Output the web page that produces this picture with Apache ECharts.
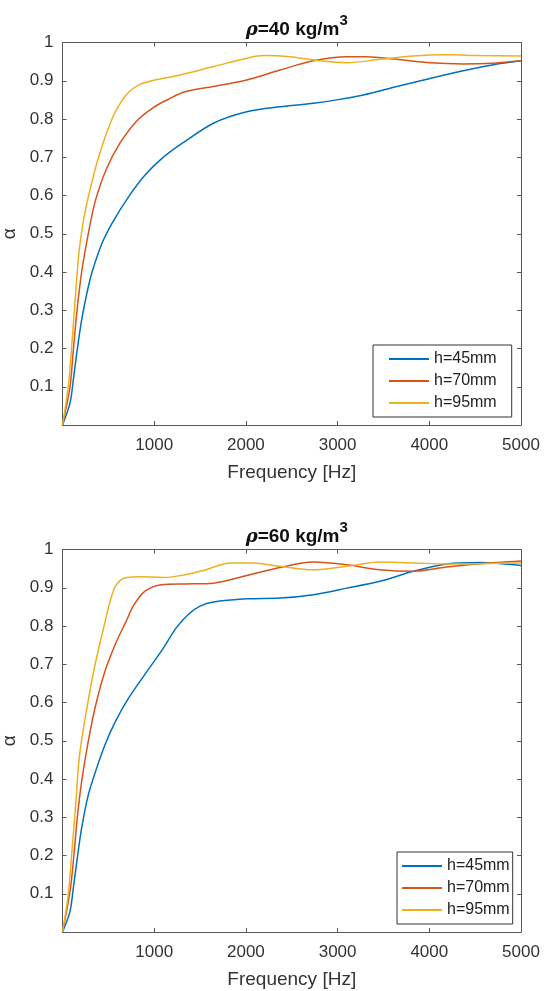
<!DOCTYPE html>
<html>
<head>
<meta charset="utf-8">
<script src="https://cdn.jsdelivr.net/npm/echarts@6/dist/echarts.min.js"></script>
<style>html,body{margin:0;padding:0;background:#fff}#c{width:544px;height:991px}</style>
</head>
<body>
<div id="c"></div>
<script>
// ---- data (frequency in Hz, absorption coefficient alpha) ----
const seriesNames = ['h=45mm', 'h=70mm', 'h=95mm'];
const xTicks = [1000, 2000, 3000, 4000, 5000];

// rho = 40 kg/m3
const f40_45 = [0, 82, 118, 155, 209, 282, 329, 431, 540, 722, 903, 1085, 1303, 1645, 2009, 2372, 2735, 2990, 3281, 3645, 4008, 4371, 4700, 5000];
const a40_45 = [0, 0.057, 0.118, 0.187, 0.275, 0.362, 0.405, 0.475, 0.527, 0.597, 0.654, 0.697, 0.736, 0.789, 0.819, 0.832, 0.841, 0.85, 0.863, 0.885, 0.906, 0.926, 0.942, 0.952];
const f40_70 = [0, 82, 118, 155, 209, 282, 356, 480, 630, 810, 990, 1158, 1336, 1645, 2009, 2372, 2735, 3099, 3317, 3645, 4008, 4371, 4700, 5000];
const a40_70 = [0, 0.1, 0.196, 0.292, 0.4, 0.501, 0.584, 0.67, 0.738, 0.795, 0.83, 0.852, 0.871, 0.885, 0.902, 0.928, 0.952, 0.963, 0.963, 0.956, 0.947, 0.944, 0.946, 0.952];
const f40_95 = [0, 63, 100, 140, 180, 225, 285, 393, 540, 640, 730, 840, 1009, 1281, 1645, 2009, 2190, 2481, 2808, 3099, 3462, 3826, 4190, 4553, 5000];
const a40_95 = [0, 0.1, 0.205, 0.335, 0.452, 0.53, 0.6, 0.7, 0.8, 0.845, 0.872, 0.89, 0.902, 0.915, 0.937, 0.959, 0.966, 0.963, 0.952, 0.947, 0.956, 0.965, 0.968, 0.966, 0.965];

// rho = 60 kg/m3
const f60_45 = [0, 82, 118, 161, 209, 282, 375, 468, 576, 722, 903, 1085, 1240, 1380, 1500, 1645, 2009, 2372, 2735, 3099, 3462, 3826, 4190, 4553, 5000];
const a60_45 = [0, 0.054, 0.115, 0.193, 0.272, 0.359, 0.43, 0.492, 0.55, 0.612, 0.675, 0.737, 0.795, 0.832, 0.852, 0.863, 0.871, 0.873, 0.882, 0.899, 0.917, 0.943, 0.962, 0.966, 0.958];
const f60_70 = [0, 82, 125, 161, 209, 290, 365, 465, 590, 690, 774, 900, 1082, 1336, 1645, 2009, 2372, 2735, 3099, 3462, 3826, 4190, 4553, 5000];
const a60_70 = [0, 0.106, 0.202, 0.298, 0.394, 0.51, 0.596, 0.683, 0.76, 0.81, 0.853, 0.891, 0.908, 0.91, 0.912, 0.932, 0.953, 0.967, 0.96, 0.947, 0.943, 0.954, 0.963, 0.97];
const f60_95 = [0, 63, 100, 144, 178, 215, 275, 356, 463, 520, 580, 682, 864, 1118, 1336, 1536, 1827, 2081, 2372, 2735, 3099, 3462, 3826, 4190, 4553, 5000];
const a60_95 = [0, 0.098, 0.202, 0.333, 0.445, 0.512, 0.598, 0.7, 0.81, 0.865, 0.905, 0.926, 0.929, 0.927, 0.934, 0.945, 0.965, 0.965, 0.956, 0.947, 0.956, 0.967, 0.965, 0.962, 0.963, 0.965];

// ---- build chart ----
const colors = ['#0072BD', '#D95319', '#EDB120'];
const FONT = '"Liberation Sans", Arial, Helvetica, sans-serif';
const zip = (f, a) => f.map((v, i) => [v, a[i]]);

const grids = [
  { left: 62.5, top: 42.5, width: 458.5, height: 382.5, containLabel: false, outerBoundsMode: 'none' },
  { left: 62.5, top: 549.5, width: 458.5, height: 382.5, containLabel: false, outerBoundsMode: 'none' }
];

const axisLineStyle = { color: '#5a5a5a', width: 1 };
function xAx(gi, pos) {
  const main = pos === 'bottom';
  return {
    type: 'value', gridIndex: gi, position: pos, min: 0, max: 5000, interval: 1000,
    axisLine: { show: true, onZero: false, lineStyle: axisLineStyle },
    axisTick: { show: true, inside: true, length: 4, lineStyle: axisLineStyle },
    splitLine: { show: false },
    axisLabel: {
      show: main, margin: 12, color: '#333', fontFamily: FONT, fontSize: 17,
      formatter: v => (v === 0 ? '' : String(v))
    },
    name: main ? 'Frequency [Hz]' : '', nameLocation: 'middle', nameGap: 38,
    nameTextStyle: { color: '#333', fontFamily: FONT, fontSize: 19 }
  };
}
function yAx(gi, pos) {
  const main = pos === 'left';
  return {
    type: 'value', gridIndex: gi, position: pos, min: 0, max: 1, interval: 0.1,
    axisLine: { show: true, onZero: false, lineStyle: axisLineStyle },
    axisTick: { show: true, inside: true, length: 4, lineStyle: axisLineStyle },
    splitLine: { show: false },
    axisLabel: {
      show: main, margin: 9, color: '#333', fontFamily: FONT, fontSize: 17,
      formatter: v => (v === 0 ? '' : String(Math.round(v * 10) / 10))
    },
    name: main ? 'α' : '', nameLocation: 'middle', nameGap: 39, nameRotate: 90,
    nameTextStyle: { color: '#333', fontFamily: FONT, fontSize: 19 }
  };
}

const data40 = [zip(f40_45, a40_45), zip(f40_70, a40_70), zip(f40_95, a40_95)];
const data60 = [zip(f60_45, a60_45), zip(f60_70, a60_70), zip(f60_95, a60_95)];

const series = [];
[data40, data60].forEach((set, gi) => {
  set.forEach((d, si) => {
    series.push({
      type: 'line', name: seriesNames[si], xAxisIndex: gi * 2, yAxisIndex: gi * 2,
      data: d, symbol: 'none', showSymbol: false, smooth: 0.3,
      lineStyle: { color: colors[si], width: 1.5 }, itemStyle: { color: colors[si] },
      z: 3 + si
    });
  });
});

function titleFor(val, topPx) {
  return {
    left: 291.75, top: topPx, textAlign: 'center',
    text: '{r|ρ}{b|=' + val + ' kg/m}{s|3}',
    textStyle: {
      rich: {
        r: { fontFamily: '"DejaVu Serif", serif', fontStyle: 'italic', fontSize: 18, color: '#111', verticalAlign: 'bottom', lineHeight: 26 },
        b: { fontFamily: FONT, fontWeight: 'bold', fontSize: 19, color: '#111', verticalAlign: 'bottom', lineHeight: 26 },
        s: { fontFamily: FONT, fontWeight: 'bold', fontSize: 15, color: '#111', verticalAlign: 'top', lineHeight: 26, padding: [0, 0, 12, 0] }
      }
    }
  };
}

const legendCommon = {
  orient: 'vertical', icon: 'rect', itemWidth: 40, itemHeight: 2, itemGap: 6,
  borderColor: '#333', borderWidth: 1, backgroundColor: '#fff', selectedMode: false,
  textStyle: { fontFamily: FONT, fontSize: 16, color: '#222', lineHeight: 16, height: 16 },
  data: seriesNames
};

const option = {
  animation: false,
  backgroundColor: '#fff',
  title: [titleFor(40, 8), titleFor(60, 515)],
  grid: grids,
  xAxis: [xAx(0, 'bottom'), xAx(0, 'top'), xAx(1, 'bottom'), xAx(1, 'top')],
  yAxis: [yAx(0, 'left'), yAx(0, 'right'), yAx(1, 'left'), yAx(1, 'right')],
  legend: [
    Object.assign({}, legendCommon, { left: 373, top: 345, padding: [6, 15, 6, 16] }),
    Object.assign({}, legendCommon, { left: 397, top: 852, padding: [6, 3, 6, 5] })
  ],
  series: series
};

const chart = echarts.init(document.getElementById('c'), null, { renderer: 'canvas' });
chart.setOption(option);
</script>
</body>
</html>
